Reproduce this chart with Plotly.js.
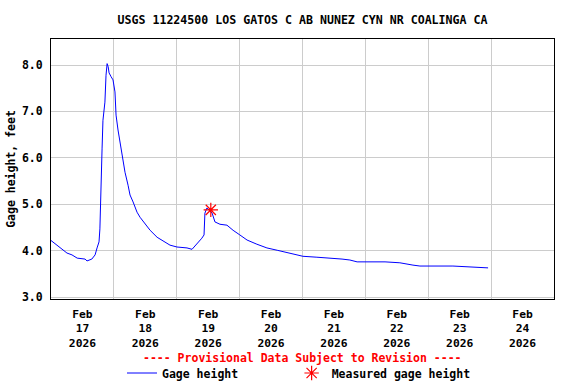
<!DOCTYPE html>
<html>
<head>
<meta charset="utf-8">
<script src="https://cdn.plot.ly/plotly-3.0.1.min.js"></script>
<style>html,body{margin:0;padding:0;background:#fff;}#chart{width:576px;height:384px;}</style>
</head>
<body>
<div id="chart"></div>
<script>
const gageTimes = [
  "2026-02-17 00:00","2026-02-17 02:20","2026-02-17 04:10","2026-02-17 06:05","2026-02-17 08:00",
  "2026-02-17 10:00","2026-02-17 13:00","2026-02-17 13:45","2026-02-17 15:35","2026-02-17 16:50",
  "2026-02-17 17:35","2026-02-17 18:20","2026-02-17 18:40","2026-02-17 19:05","2026-02-17 19:30",
  "2026-02-17 19:50","2026-02-17 20:35","2026-02-17 21:00","2026-02-17 21:25","2026-02-17 21:50",
  "2026-02-17 22:10","2026-02-17 22:55","2026-02-17 23:40","2026-02-18 00:25","2026-02-18 00:50",
  "2026-02-18 01:35","2026-02-18 02:20","2026-02-18 03:30","2026-02-18 04:15","2026-02-18 05:25",
  "2026-02-18 06:10","2026-02-18 07:20","2026-02-18 08:50","2026-02-18 10:00","2026-02-18 11:55",
  "2026-02-18 13:50","2026-02-18 16:30","2026-02-18 18:50","2026-02-18 21:25","2026-02-19 00:05",
  "2026-02-19 03:55","2026-02-19 05:50","2026-02-19 07:40","2026-02-19 09:35","2026-02-19 10:25",
  "2026-02-19 10:45","2026-02-19 11:30","2026-02-19 13:30","2026-02-19 14:35","2026-02-19 16:30",
  "2026-02-19 19:10","2026-02-19 21:30","2026-02-20 00:05","2026-02-20 02:50","2026-02-20 06:35",
  "2026-02-20 10:25","2026-02-20 14:20","2026-02-20 19:10","2026-02-21 00:10","2026-02-21 05:30",
  "2026-02-21 11:35","2026-02-21 15:05","2026-02-21 18:05","2026-02-21 20:50","2026-02-22 07:30",
  "2026-02-22 13:10","2026-02-22 18:10","2026-02-22 20:50","2026-02-23 09:25","2026-02-23 16:40",
  "2026-02-23 19:25","2026-02-23 22:50"
];
const gageValues = [
  4.22,4.12,4.05,3.95,3.91,
  3.84,3.82,3.78,3.82,3.91,
  4.06,4.19,4.47,5.69,6.21,
  6.81,7.20,7.78,8.03,7.96,
  7.83,7.75,7.68,7.42,6.92,
  6.60,6.34,5.89,5.69,5.41,
  5.20,5.05,4.83,4.72,4.59,
  4.44,4.29,4.21,4.12,4.08,
  4.06,4.03,4.14,4.27,4.34,
  4.81,4.92,4.81,4.62,4.57,
  4.55,4.44,4.34,4.23,4.14,
  4.06,4.01,3.95,3.88,3.86,
  3.84,3.82,3.80,3.76,3.76,
  3.74,3.69,3.67,3.67,3.65,
  3.63,3.63
];
const measuredTimes = ["2026-02-19 13:00"];
const measuredValues = [4.88];
const yTicks = [3, 4, 5, 6, 7, 8];
const titleText = "USGS 11224500 LOS GATOS C AB NUNEZ CYN NR COALINGA CA";
const noteText = "---- Provisional Data Subject to Revision ----";
const gageName = "Gage height";
const measuredName = "Measured gage height";

const FONT = "DejaVu Sans Mono";
const F = (size, color) => ({family: FONT, size: size, color: color || "#000", weight: "bold"});
const NB = "\u00a0";
const traces = [
  {x: gageTimes, y: gageValues, type: "scatter", mode: "lines", name: gageName + NB.repeat(7),
   line: {color: "#0000ff", width: 1}},
  {x: measuredTimes, y: measuredValues, type: "scatter", mode: "markers", name: measuredName,
   marker: {symbol: "asterisk-open", size: 12, color: "#ff0000", line: {color: "#ff0000", width: 1.2}}}
];
const layout = {
  width: 576, height: 384,
  margin: {l: 51, r: 22, t: 39, b: 85, autoexpand: false},
  paper_bgcolor: "#ffffff", plot_bgcolor: "#ffffff",
  font: F(11),
  title: {text: titleText, font: F(11.6), automargin: false,
          xref: "paper", x: 0.5, xanchor: "center", yref: "container", y: 1 - 20/384, yanchor: "middle"},
  xaxis: {type: "date", range: ["2026-02-17 00:00", "2026-02-25 00:00"], automargin: false,
          tick0: "2026-02-17", dtick: 86400000, tickformat: "%b<br>%d<br>%Y", ticklabelmode: "period",
          showgrid: true, gridcolor: "#cccccc", gridwidth: 1, zeroline: false,
          showline: true, mirror: true, linecolor: "#000", linewidth: 1, ticks: "", ticklabelstandoff: 4,
          tickfont: F(11.3)},
  yaxis: {range: [2.96, 8.56], tickvals: yTicks, tickformat: ".1f", automargin: false,
          showgrid: true, gridcolor: "#cccccc", gridwidth: 1, zeroline: false,
          showline: true, mirror: true, linecolor: "#000", linewidth: 1, ticks: "", ticklabelstandoff: 5,
          tickfont: F(11.5),
          title: {text: "Gage height, feet", standoff: 3, font: F(11.5)}},
  showlegend: true,
  legend: {orientation: "h", xref: "container", yref: "container",
           x: 122 / 576, xanchor: "left", y: 1 - 373 / 384, yanchor: "middle",
           font: F(11.5), itemwidth: 30,
           bgcolor: "rgba(0,0,0,0)"},
  annotations: [{text: noteText, xref: "paper", yref: "paper", x: 0.5, y: (299 - 358) / 260,
                 xanchor: "center", yanchor: "middle", showarrow: false,
                 font: F(11.5, "#ff0000")}]
};
Plotly.newPlot("chart", traces, layout, {displayModeBar: false, staticPlot: true});
</script>
</body>
</html>
